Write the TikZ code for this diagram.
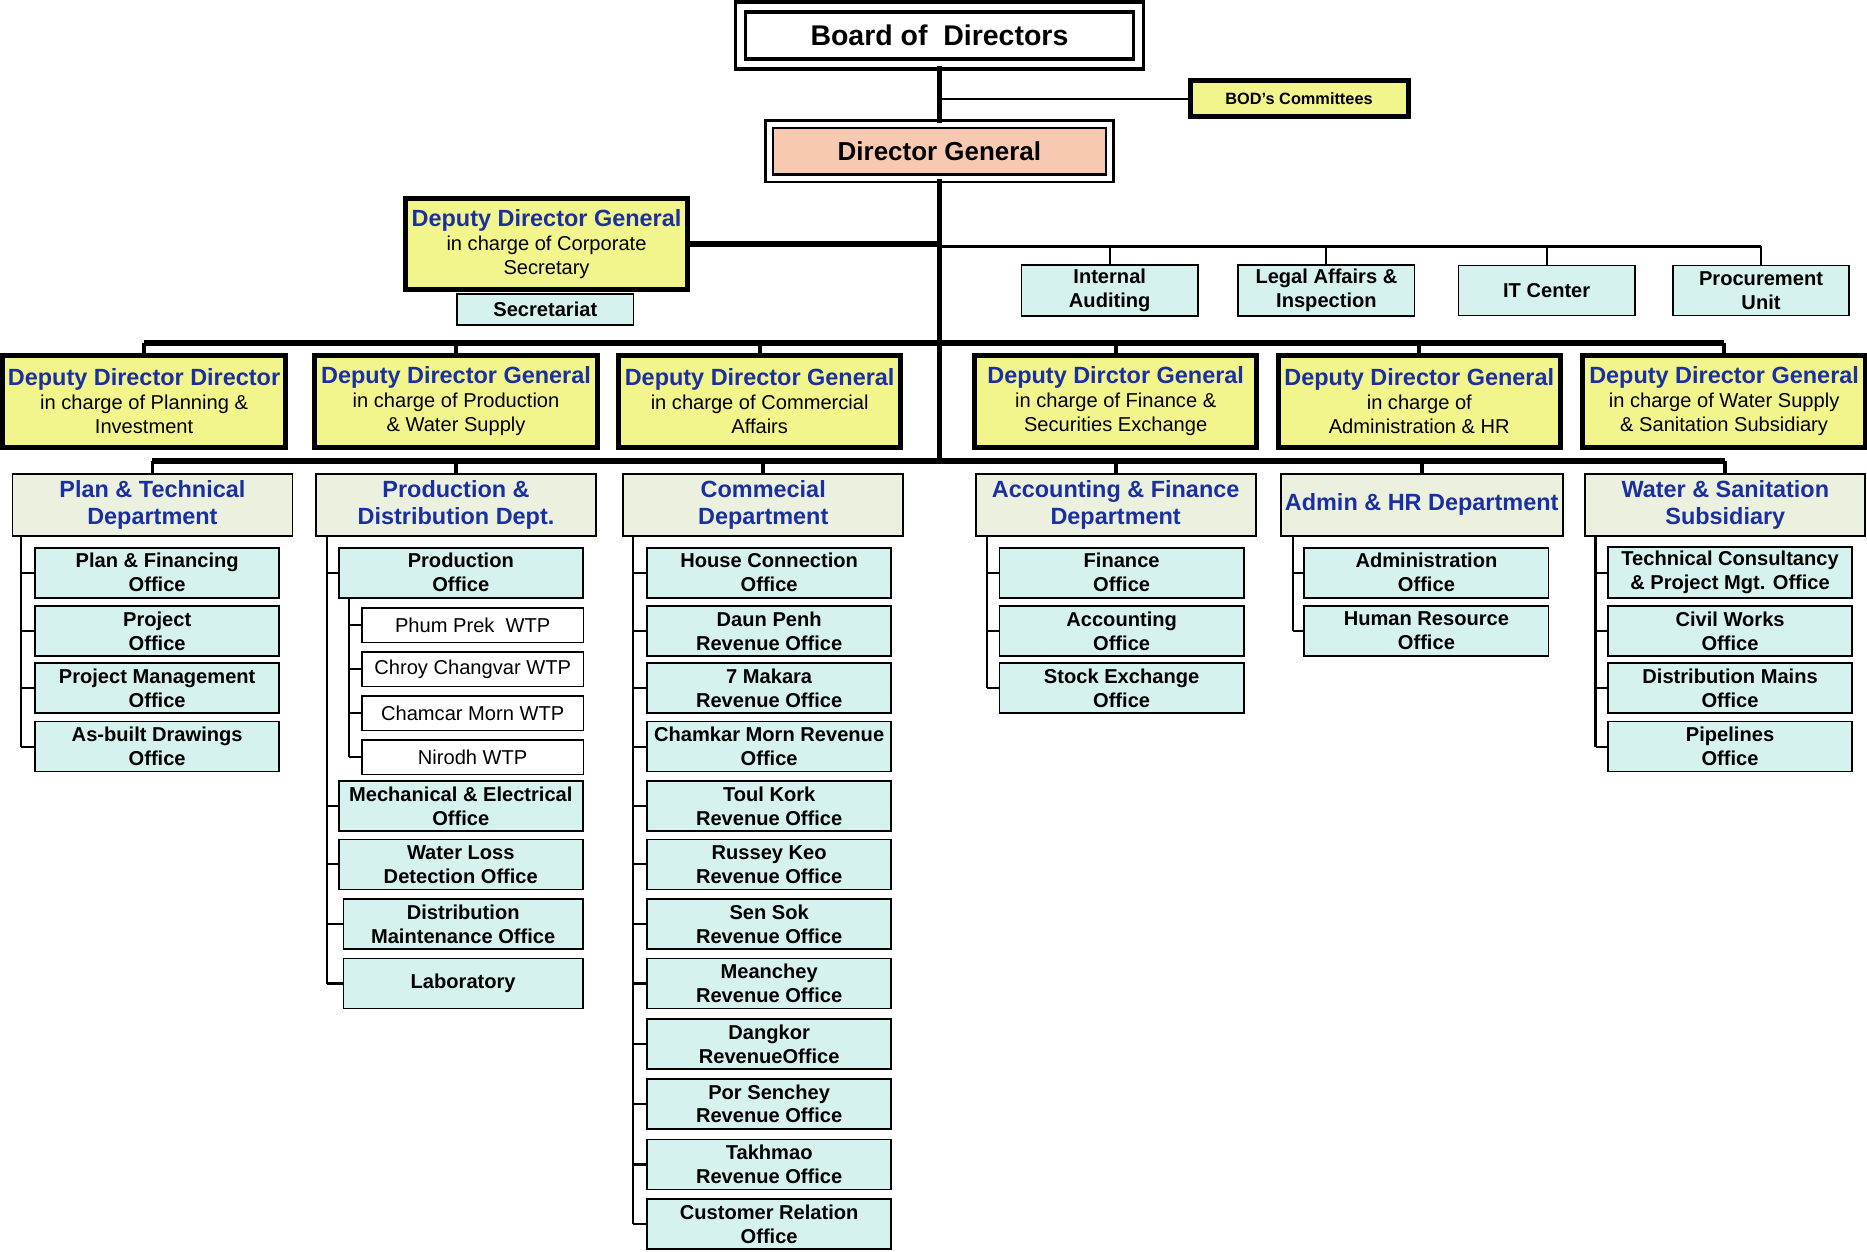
\documentclass[tikz,border=0pt]{standalone}
\usepackage{fontspec}
\setmainfont{Liberation Sans}
\definecolor{officecol}{HTML}{D6F2EE}
\definecolor{deptcol}{HTML}{EBF1DE}
\definecolor{ddgcol}{HTML}{F2F58C}
\definecolor{dgcol}{HTML}{F8C9B1}
\definecolor{titleblue}{HTML}{1A2FA0}
\newcommand{\ddgtitle}{\fontsize{5.6}{6.6}\selectfont\bfseries\color{titleblue}}
\tikzset{
  box/.style={draw, align=center, inner sep=1pt, font=\fontsize{4.8}{5.7}\selectfont\bfseries},
  office/.style={box, fill=officecol, minimum width=2.05cm, minimum height=0.42cm},
  staff/.style={box, fill=officecol, minimum width=1.48cm, minimum height=0.42cm},
  wtp/.style={box, fill=white, font=\fontsize{4.8}{5.7}\selectfont, minimum width=1.86cm, minimum height=0.29cm},
  dept/.style={box, fill=deptcol, text=titleblue, font=\fontsize{5.6}{6.6}\selectfont\bfseries, minimum width=2.35cm, minimum height=0.52cm},
  ddg/.style={box, fill=ddgcol, line width=1.2pt, font=\fontsize{4.8}{5.7}\selectfont, minimum width=2.37cm, minimum height=0.77cm},
  link/.style={line width=0.5pt},
  trunk/.style={line width=1.3pt}
}
\begin{document}
\begin{tikzpicture}[x=0.01cm,y=-0.01cm]
    \useasboundingbox (0,0) rectangle (1568,1051);

    % top of the chart
    \node [box, double, double distance=1.5pt, line width=0.9pt, minimum width=3.34cm, minimum height=0.48cm,
           font=\fontsize{6.8}{8}\selectfont\bfseries] (board) at (789,30) {Board of\ \ Directors};
    \node [box, fill=ddgcol, line width=1.2pt, minimum width=1.83cm, minimum height=0.3cm,
           font=\fontsize{3.9}{4.6}\selectfont\bfseries] (bodc) at (1091,83) {BOD's Committees};
    \node [box, fill=dgcol, double, double distance=1.2pt, line width=0.6pt, minimum width=2.86cm, minimum height=0.45cm,
           font=\fontsize{6.2}{7.4}\selectfont\bfseries] (dg) at (789,127) {Director General};
    \coordinate (split) at (789,387);
    \draw [trunk] (board) -- (dg);
    \draw [link] (bodc.west -| board) -- (bodc.west);
    \draw [trunk] (dg) -- (split);

    \node [ddg] (ddgc) at (459,205) {{\ddgtitle Deputy Director General}\\in charge of Corporate\\Secretary};
    \node [staff, minimum height=0.26cm] (secr) at (458,260) {Secretariat};
    \draw [trunk] (ddgc.east) -- (ddgc.east -| dg);

    % staff units
    \coordinate (st) at (789,207);
    \foreach \n/\x/\t in {1/932/{Internal\\Auditing},2/1114/{Legal Affairs \&\\Inspection},3/1299/{IT Center},4/1479/{Procurement\\Unit}} {
        \node [staff] (st\n) at (\x,244) {\t};
        \draw [link] (st -| st\n) -- (st\n.north);
    }
    \draw [link] (st) -- (st -| st4);

    % deputies and departments
    \foreach \n/\x/\d/\t in {
        1/121/{Deputy Director Director}/{in charge of Planning \&\\Investment},
        2/383/{Deputy Director General}/{in charge of Production\\\& Water Supply},
        3/638/{Deputy Director General}/{in charge of Commercial\\Affairs},
        4/937/{Deputy Dirctor General}/{in charge of Finance \&\\Securities Exchange},
        5/1192/{Deputy Director General}/{in charge of\\Administration \& HR},
        6/1448/{Deputy Director General}/{in charge of Water Supply\\\& Sanitation Subsidiary}} {
        \node [ddg] (ddg\n) at (\x,337) {{\ddgtitle \d}\\\t};
        \draw [link, line width=0.9pt] (ddg\n.north |- 0,288) -- (ddg\n.north);
    }
    \draw [trunk] (ddg1.north |- 0,288) -- (ddg6.north |- 0,288);
    \foreach \n/\x/\t in {1/128/{Plan \& Technical\\Department},2/383/{Production \&\\Distribution Dept.},
        3/641/{Commecial\\Department},4/937/{Accounting \& Finance\\Department},
        5/1194/{Admin \& HR Department},6/1449/{Water \& Sanitation\\Subsidiary}} {
        \node [dept] (dep\n) at (\x,424) {\t};
        \draw [link, line width=0.9pt] (split -| dep\n) -- (dep\n.north);
    }
    \draw [trunk] (split -| dep1) -- (split -| dep6);

    % offices
    \coordinate (s1) at (18,450);
    \coordinate (s2) at (275,450);
    \coordinate (s3) at (532,450);
    \coordinate (s4) at (829,450);
    \coordinate (s5) at (1086,450);
    \coordinate (s6) at (1340,450);
    \foreach \n/\y/\t in {1/481/{Plan \& Financing\\Office},2/530/{Project\\Office},
        3/578/{Project Management\\Office},4/627/{As-built Drawings\\Office}} {
        \node [office] (a\n) at (132,\y) {\t};
        \draw [link] (s1 |- a\n) -- (a\n.west);
    }
    \draw [link] (s1) -- (s1 |- a4);

    \foreach \n/\x/\y/\w/\t in {1/387/481/2.05/{Production\\Office},2/387/677/2.05/{Mechanical \& Electrical\\Office},
        3/387/726/2.05/{Water Loss\\Detection Office},4/389/776/2.01/{Distribution\\Maintenance Office},
        5/389/826/2.01/{Laboratory}} {
        \node [office, minimum width=\w cm] (b\n) at (\x,\y) {\t};
        \draw [link] (s2 |- b\n) -- (b\n.west);
    }
    \draw [link] (s2) -- (s2 |- b5);
    \coordinate (w0) at (293,502);
    \foreach \n/\y/\t in {1/525/{Phum Prek\ \ WTP},2/562/{Chroy Changvar WTP},3/599/{Chamcar Morn WTP},4/636/{Nirodh WTP}} {
        \node [wtp] (w\n) at (397,\y) {\t};
        \draw [link] (w0 |- w\n) -- (w\n.west);
    }
    \draw [link] (w0) -- (w0 |- w4);

    \foreach \n/\y/\t in {1/481/{House Connection\\Office},2/530/{Daun Penh\\Revenue Office},
        3/578/{7 Makara\\Revenue Office},4/627/{Chamkar Morn Revenue\\Office},5/677/{Toul Kork\\Revenue Office},
        6/726/{Russey Keo\\Revenue Office},7/776/{Sen Sok\\Revenue Office},8/826/{Meanchey\\Revenue Office},
        9/877/{Dangkor\\RevenueOffice},10/927/{Por Senchey\\Revenue Office},11/978/{Takhmao\\Revenue Office},
        12/1028/{Customer Relation\\Office}} {
        \node [office] (c\n) at (646,\y) {\t};
        \draw [link] (s3 |- c\n) -- (c\n.west);
    }
    \draw [link] (s3) -- (s3 |- c12);

    \foreach \n/\y/\t in {1/481/{Finance\\Office},2/530/{Accounting\\Office},3/578/{Stock Exchange\\Office}} {
        \node [office] (e\n) at (942,\y) {\t};
        \draw [link] (s4 |- e\n) -- (e\n.west);
    }
    \draw [link] (s4) -- (s4 |- e3);

    \foreach \n/\y/\t in {1/481/{Administration\\Office},2/530/{Human Resource\\Office}} {
        \node [office] (f\n) at (1198,\y) {\t};
        \draw [link] (s5 |- f\n) -- (f\n.west);
    }
    \draw [link] (s5) -- (s5 |- f2);

    \foreach \n/\y/\t in {1/481/{Technical Consultancy\\\& Project Mgt. Office},2/530/{Civil Works\\Office},
        3/578/{Distribution Mains\\Office},4/627/{Pipelines\\Office}} {
        \node [office] (g\n) at (1453,\y) {\t};
        \draw [link] (s6 |- g\n) -- (g\n.west);
    }
    \draw [link] (s6) -- (s6 |- g4);
\end{tikzpicture}
\end{document}
